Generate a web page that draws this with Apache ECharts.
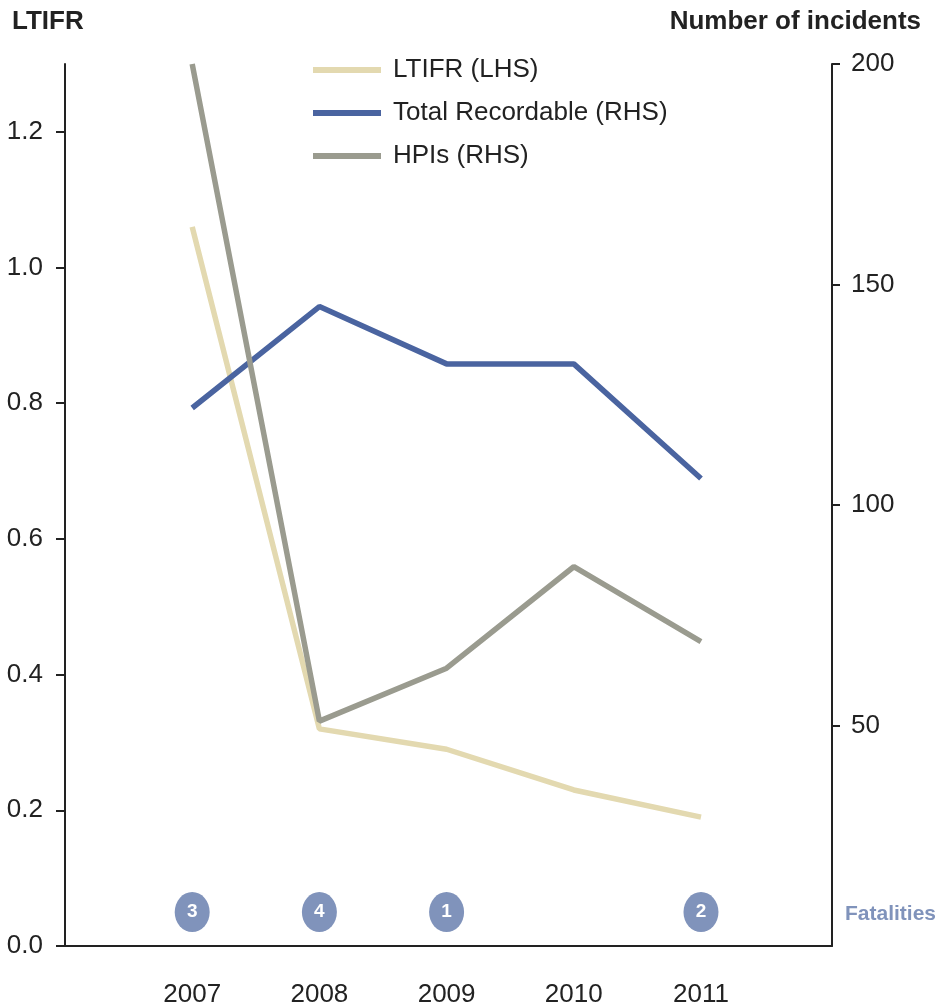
<!DOCTYPE html>
<html>
<head>
<meta charset="utf-8">
<script src="https://cdn.jsdelivr.net/npm/echarts@6/dist/echarts.min.js"></script>
<style>
  html, body { margin: 0; padding: 0; background: #fff; }
  #chart { width: 940px; height: 1008px; }
</style>
</head>
<body>
<div id="chart"></div>
<script>
// Safety performance, 2007-2011
const years = [2007, 2008, 2009, 2010, 2011];
const ltifr = [1.06, 0.32, 0.29, 0.23, 0.19];          // left axis
const totalRecordable = [122, 145, 132, 132, 106];     // right axis
const hpis = [200, 51, 63, 86, 69];                     // right axis
const fatalities = [3, 4, 1, 0, 2];
const leftTicks = [0, 0.2, 0.4, 0.6, 0.8, 1.0, 1.2];
const rightTicks = [50, 100, 150, 200];

const FONT = '"Liberation Sans", Arial, sans-serif';
const TEXT = '#222';
const FAT_COLOR = '#8093bb';
const FAT_LEVEL = 0.05; // height of the fatalities badges on the LTIFR scale

const chart = echarts.init(document.getElementById('chart'), null, { renderer: 'canvas' });

const pair = (arr) => years.map((y, i) => [y, arr[i]]);

chart.setOption({
  backgroundColor: '#fff',
  animation: false,
  textStyle: { fontFamily: FONT },
  grid: { left: 65, right: 108, top: 64, bottom: 62, containLabel: false },
  legend: {
    orient: 'vertical',
    left: 313,
    top: 57,
    padding: 0,
    icon: 'rect',
    itemWidth: 68,
    itemHeight: 6,
    itemGap: 17,
    textStyle: { fontFamily: FONT, fontSize: 26, color: TEXT, lineHeight: 26, padding: [0, 0, 0, 7] },
    data: ['LTIFR (LHS)', 'Total Recordable (RHS)', 'HPIs (RHS)']
  },
  xAxis: {
    type: 'value',
    min: 2006,
    max: 2012.03,
    splitLine: { show: false },
    axisTick: { show: false },
    axisLine: { show: true, lineStyle: { color: TEXT, width: 2 } },
    axisLabel: {
      fontSize: 26, color: TEXT, fontFamily: FONT, margin: 36,
      customValues: years,
      formatter: (v) => String(v)
    }
  },
  yAxis: [
    {
      type: 'value',
      position: 'left',
      min: 0,
      max: 1.3,
      splitLine: { show: false },
      axisLine: { show: true, lineStyle: { color: TEXT, width: 2 } },
      axisTick: { show: true, length: 9, lineStyle: { color: TEXT, width: 2 }, customValues: leftTicks },
      axisLabel: {
        fontSize: 26, color: TEXT, fontFamily: FONT, margin: 22,
        customValues: leftTicks,
        formatter: (v) => v.toFixed(1)
      }
    },
    {
      type: 'value',
      position: 'right',
      min: 0,
      max: 200,
      splitLine: { show: false },
      axisLine: { show: true, lineStyle: { color: TEXT, width: 2 } },
      axisTick: { show: true, length: 8, lineStyle: { color: TEXT, width: 2 }, customValues: rightTicks },
      axisLabel: {
        fontSize: 26, color: TEXT, fontFamily: FONT, margin: 19,
        customValues: rightTicks
      }
    }
  ],
  series: [
    {
      name: 'LTIFR (LHS)',
      type: 'line',
      yAxisIndex: 0,
      data: pair(ltifr),
      showSymbol: false,
      symbol: 'none',
      color: '#e3d9b0',
      lineStyle: { width: 5.5, color: '#e3d9b0' },
      z: 2
    },
    {
      name: 'Total Recordable (RHS)',
      type: 'line',
      yAxisIndex: 1,
      data: pair(totalRecordable),
      showSymbol: false,
      symbol: 'none',
      color: '#4a64a0',
      lineStyle: { width: 5.5, color: '#4a64a0' },
      z: 3
    },
    {
      name: 'HPIs (RHS)',
      type: 'line',
      yAxisIndex: 1,
      data: pair(hpis),
      showSymbol: false,
      symbol: 'none',
      color: '#9a9b8f',
      lineStyle: { width: 5.5, color: '#9a9b8f' },
      z: 4
    },
    {
      name: 'Fatalities',
      type: 'scatter',
      yAxisIndex: 0,
      symbol: 'circle',
      symbolSize: [35, 40],
      itemStyle: { color: FAT_COLOR, opacity: 1 },
      data: years.map((y, i) => ({ value: [y, FAT_LEVEL], count: fatalities[i] }))
        .filter(d => d.count > 0),
      label: {
        show: true,
        position: 'inside',
        color: '#fff',
        fontWeight: 'bold',
        fontSize: 19,
        fontFamily: FONT,
        formatter: (p) => String(p.data.count)
      },
      z: 5
    }
  ],
  graphic: [
    {
      type: 'text', left: 12, top: 9,
      style: { text: 'LTIFR', font: 'bold 26px ' + FONT, fill: TEXT }
    },
    {
      type: 'text', right: 19, top: 9,
      style: { text: 'Number of incidents', font: 'bold 26px ' + FONT, fill: TEXT }
    },
    {
      type: 'text', left: 845, top: 904,
      style: { text: 'Fatalities', font: 'bold 21px ' + FONT, fill: FAT_COLOR }
    }
  ]
});
</script>
</body>
</html>
